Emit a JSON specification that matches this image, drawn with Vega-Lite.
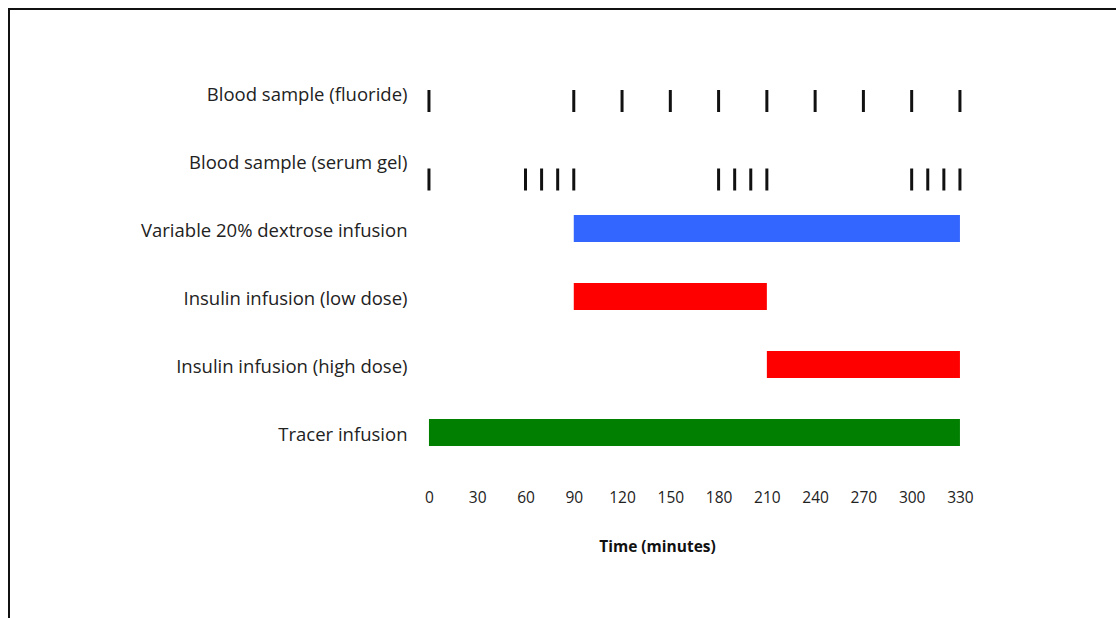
{
  "$schema": "https://vega.github.io/schema/vega-lite/v6.json",
  "autosize": "none",
  "padding": {"left": 9, "top": 9, "right": -10, "bottom": -20},
  "width": 1117,
  "height": 629,
  "background": "white",
  "config": {
    "view": {"stroke": "#111111", "strokeWidth": 2},
    "font": "Open Sans"
  },
  "datasets": {
    "bars": [
      {"row": "Variable 20% dextrose infusion", "start": 90, "end": 330},
      {"row": "Insulin infusion (low dose)", "start": 90, "end": 210},
      {"row": "Insulin infusion (high dose)", "start": 210, "end": 330},
      {"row": "Tracer infusion", "start": 0, "end": 330}
    ],
    "samples": [
      {"row": "Blood sample (fluoride)", "time": 0},
      {"row": "Blood sample (fluoride)", "time": 90},
      {"row": "Blood sample (fluoride)", "time": 120},
      {"row": "Blood sample (fluoride)", "time": 150},
      {"row": "Blood sample (fluoride)", "time": 180},
      {"row": "Blood sample (fluoride)", "time": 210},
      {"row": "Blood sample (fluoride)", "time": 240},
      {"row": "Blood sample (fluoride)", "time": 270},
      {"row": "Blood sample (fluoride)", "time": 300},
      {"row": "Blood sample (fluoride)", "time": 330},
      {"row": "Blood sample (serum gel)", "time": 0},
      {"row": "Blood sample (serum gel)", "time": 60},
      {"row": "Blood sample (serum gel)", "time": 70},
      {"row": "Blood sample (serum gel)", "time": 80},
      {"row": "Blood sample (serum gel)", "time": 90},
      {"row": "Blood sample (serum gel)", "time": 180},
      {"row": "Blood sample (serum gel)", "time": 190},
      {"row": "Blood sample (serum gel)", "time": 200},
      {"row": "Blood sample (serum gel)", "time": 210},
      {"row": "Blood sample (serum gel)", "time": 300},
      {"row": "Blood sample (serum gel)", "time": 310},
      {"row": "Blood sample (serum gel)", "time": 320},
      {"row": "Blood sample (serum gel)", "time": 330}
    ]
  },
  "encoding": {
    "y": {
      "field": "row",
      "type": "nominal",
      "scale": {
        "domain": [
          "Blood sample (fluoride)",
          "Blood sample (serum gel)",
          "Variable 20% dextrose infusion",
          "Insulin infusion (low dose)",
          "Insulin infusion (high dose)",
          "Tracer infusion"
        ],
        "range": [49.5, 457.5],
        "paddingInner": 0,
        "paddingOuter": 0
      },
      "axis": {
        "title": null,
        "orient": "left",
        "offset": -420,
        "domain": false,
        "ticks": false,
        "tickSize": 0,
        "grid": false,
        "labelAlign": "right",
        "labelBaseline": "middle",
        "labelPadding": 22,
        "labelOffset": 2.5,
        "labelFont": "Open Sans",
        "labelFontSize": 18.5,
        "labelColor": "#222222",
        "labelLimit": 400
      }
    }
  },
  "layer": [
    {
      "data": {"name": "bars"},
      "mark": {"type": "bar", "size": 27},
      "encoding": {
        "x": {
          "field": "start",
          "type": "quantitative",
          "scale": {"domain": [-261, 433.2], "nice": false, "zero": false},
          "axis": {
            "title": "Time (minutes)",
            "orient": "bottom",
            "offset": -171,
            "values": [0, 30, 60, 90, 120, 150, 180, 210, 240, 270, 300, 330],
            "domain": false,
            "ticks": false,
            "tickSize": 0,
            "grid": false,
            "labelPadding": 23,
            "labelFont": "Open Sans",
            "labelFontSize": 15.5,
            "labelColor": "#222222",
            "labelFlush": false,
            "labelOverlap": false,
            "titleFont": "Open Sans",
            "titleFontSize": 15.5,
            "titleFontWeight": "bold",
            "titleColor": "#111111",
            "titleX": 648,
            "titleY": 79,
            "titleAlign": "center",
            "titleBaseline": "middle"
          }
        },
        "x2": {"field": "end"},
        "color": {
          "field": "row",
          "type": "nominal",
          "scale": {
            "domain": [
              "Variable 20% dextrose infusion",
              "Insulin infusion (low dose)",
              "Insulin infusion (high dose)",
              "Tracer infusion"
            ],
            "range": ["#3366FF", "#FF0000", "#FF0000", "#007F00"]
          },
          "legend": null
        }
      }
    },
    {
      "data": {"name": "samples"},
      "transform": [{"filter": "datum.row === 'Blood sample (fluoride)'"}],
      "mark": {"type": "tick", "size": 22, "thickness": 3, "color": "#111111", "opacity": 1, "yOffset": 8.5},
      "encoding": {
        "x": {"field": "time", "type": "quantitative"}
      }
    },
    {
      "data": {"name": "samples"},
      "transform": [{"filter": "datum.row === 'Blood sample (serum gel)'"}],
      "mark": {"type": "tick", "size": 22, "thickness": 3, "color": "#111111", "opacity": 1, "yOffset": 19},
      "encoding": {
        "x": {"field": "time", "type": "quantitative"}
      }
    }
  ]
}
